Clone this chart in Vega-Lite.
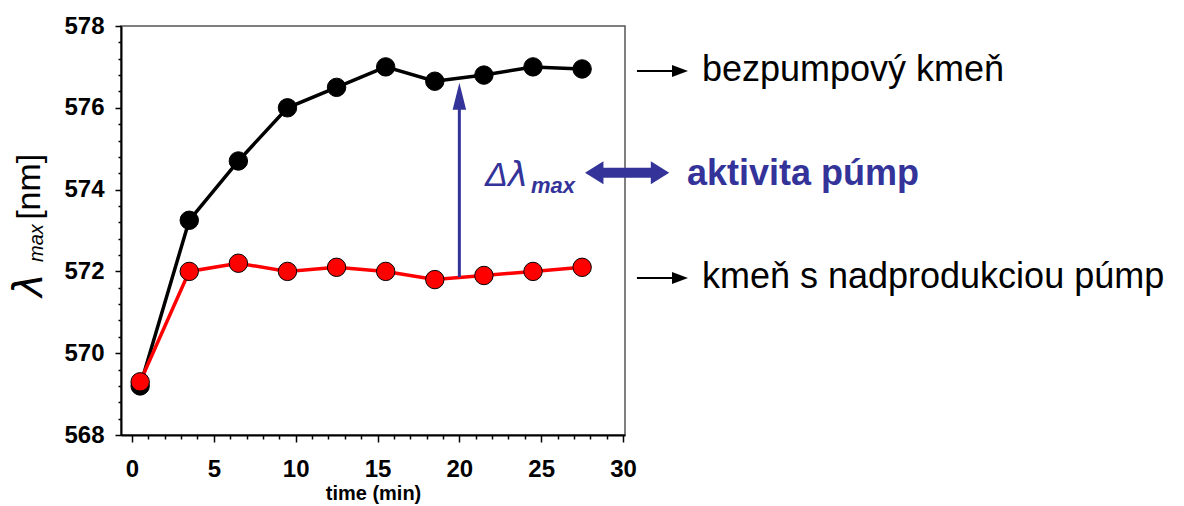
{
  "$schema": "https://vega.github.io/schema/vega-lite/v6.json",
  "width": 504,
  "height": 409,
  "autosize": {"type": "none"},
  "padding": {"left": 121, "top": 26, "right": 559, "bottom": 71},
  "background": "white",
  "config": {
    "view": {"stroke": "#555555", "strokeWidth": 1.5},
    "font": "Liberation Sans"
  },
  "datasets": {
    "series": [
      {"strain": "bezpumpový kmeň", "time": 0.5, "lambda": 569.2},
      {"strain": "bezpumpový kmeň", "time": 3.5, "lambda": 573.25},
      {"strain": "bezpumpový kmeň", "time": 6.5, "lambda": 574.7},
      {"strain": "bezpumpový kmeň", "time": 9.5, "lambda": 576.0},
      {"strain": "bezpumpový kmeň", "time": 12.5, "lambda": 576.5},
      {"strain": "bezpumpový kmeň", "time": 15.5, "lambda": 577.0},
      {"strain": "bezpumpový kmeň", "time": 18.5, "lambda": 576.65},
      {"strain": "bezpumpový kmeň", "time": 21.5, "lambda": 576.8},
      {"strain": "bezpumpový kmeň", "time": 24.5, "lambda": 577.0},
      {"strain": "bezpumpový kmeň", "time": 27.5, "lambda": 576.95},
      {"strain": "kmeň s nadprodukciou púmp", "time": 0.5, "lambda": 569.3},
      {"strain": "kmeň s nadprodukciou púmp", "time": 3.5, "lambda": 572.0},
      {"strain": "kmeň s nadprodukciou púmp", "time": 6.5, "lambda": 572.2},
      {"strain": "kmeň s nadprodukciou púmp", "time": 9.5, "lambda": 572.0},
      {"strain": "kmeň s nadprodukciou púmp", "time": 12.5, "lambda": 572.1},
      {"strain": "kmeň s nadprodukciou púmp", "time": 15.5, "lambda": 572.0},
      {"strain": "kmeň s nadprodukciou púmp", "time": 18.5, "lambda": 571.8},
      {"strain": "kmeň s nadprodukciou púmp", "time": 21.5, "lambda": 571.9},
      {"strain": "kmeň s nadprodukciou púmp", "time": 24.5, "lambda": 572.0},
      {"strain": "kmeň s nadprodukciou púmp", "time": 27.5, "lambda": 572.1}
    ]
  },
  "encoding": {
    "x": {
      "field": "time",
      "type": "quantitative",
      "scale": {"domain": [-0.67, 30.12], "nice": false, "zero": false},
      "axis": {
        "values": [0, 1, 2, 3, 4, 5, 6, 7, 8, 9, 10, 11, 12, 13, 14, 15, 16, 17, 18, 19, 20, 21, 22, 23, 24, 25, 26, 27, 28, 29, 30],
        "labelExpr": "datum.value % 5 === 0 ? format(datum.value, '.0f') : ''",
        "tickSize": {"condition": {"test": "datum.value % 5 === 0", "value": 7}, "value": 4},
        "tickColor": "black",
        "tickWidth": 1.5,
        "domainColor": "black",
        "domainWidth": 2,
        "grid": false,
        "labelOverlap": false,
        "labelFlush": false,
        "labelFont": "Liberation Sans",
        "labelFontWeight": "bold",
        "labelFontSize": 24,
        "labelColor": "black",
        "labelPadding": 15,
        "title": "time (min)",
        "titleFont": "Liberation Sans",
        "titleFontSize": 20,
        "titleFontWeight": "bold",
        "titleColor": "black",
        "titlePadding": 2
      }
    },
    "y": {
      "field": "lambda",
      "type": "quantitative",
      "scale": {"domain": [568, 578], "nice": false, "zero": false},
      "axis": {
        "values": [568, 568.4, 568.8, 569.2, 569.6, 570, 570.4, 570.8, 571.2, 571.6, 572, 572.4, 572.8, 573.2, 573.6, 574, 574.4, 574.8, 575.2, 575.6, 576, 576.4, 576.8, 577.2, 577.6, 578],
        "labelExpr": "abs(datum.value / 2 - round(datum.value / 2)) < 0.01 ? format(datum.value, '.0f') : ''",
        "tickSize": {"condition": {"test": "abs(datum.value / 2 - round(datum.value / 2)) < 0.01", "value": 6}, "value": 3},
        "tickColor": "black",
        "tickWidth": 1.5,
        "domainColor": "black",
        "domainWidth": 2,
        "grid": false,
        "labelOverlap": false,
        "labelFlush": false,
        "labelFont": "Liberation Sans",
        "labelFontWeight": "bold",
        "labelFontSize": 24,
        "labelColor": "black",
        "labelPadding": 11,
        "title": null
      }
    }
  },
  "layer": [
    {
      "data": {"name": "series"},
      "transform": [{"filter": "datum.strain === 'bezpumpový kmeň'"}],
      "mark": {"type": "line", "color": "black", "strokeWidth": 3.5}
    },
    {
      "data": {"name": "series"},
      "transform": [{"filter": "datum.strain === 'bezpumpový kmeň'"}],
      "mark": {"type": "point", "shape": "circle", "filled": true, "fill": "black", "stroke": "black", "strokeWidth": 1, "size": 340, "opacity": 1}
    },
    {
      "data": {"name": "series"},
      "transform": [{"filter": "datum.strain === 'kmeň s nadprodukciou púmp'"}],
      "mark": {"type": "line", "color": "#ff0000", "strokeWidth": 3.5}
    },
    {
      "data": {"name": "series"},
      "transform": [{"filter": "datum.strain === 'kmeň s nadprodukciou púmp'"}],
      "mark": {"type": "point", "shape": "circle", "filled": true, "fill": "#ff0000", "stroke": "black", "strokeWidth": 1, "size": 340, "opacity": 1}
    },
    {
      "data": {"values": [{"time": 20, "lambda": 571.86, "lambda2": 576.28}]},
      "mark": {"type": "rule", "color": "#333399", "strokeWidth": 3},
      "encoding": {"y2": {"field": "lambda2"}}
    },
    {
      "data": {"values": [{"time": 20, "lambda": 576.28}]},
      "mark": {"type": "point", "shape": "M0,-1L0.5,1L-0.5,1Z", "filled": true, "fill": "#333399", "strokeWidth": 0, "size": 729, "opacity": 1}
    },
    {
      "data": {"values": [{"time": 28.24, "time2": 32.26, "lambda": 574.41}]},
      "mark": {"type": "rule", "color": "#333399", "strokeWidth": 10},
      "encoding": {"x2": {"field": "time2"}}
    },
    {
      "data": {"values": [{"time": 32.26, "lambda": 574.41}]},
      "mark": {"type": "point", "shape": "M-0.8,-1L0.8,0L-0.8,1Z", "filled": true, "fill": "#333399", "strokeWidth": 0, "size": 529, "opacity": 1}
    },
    {
      "data": {"values": [{"time": 28.24, "lambda": 574.41}]},
      "mark": {"type": "point", "shape": "M0.8,-1L-0.8,0L0.8,1Z", "filled": true, "fill": "#333399", "strokeWidth": 0, "size": 529, "opacity": 1}
    },
    {
      "data": {"values": [
        {"time": 30.85, "time2": 33.0, "lambda": 576.9},
        {"time": 30.85, "time2": 33.0, "lambda": 571.84}
      ]},
      "mark": {"type": "rule", "color": "black", "strokeWidth": 2},
      "encoding": {"x2": {"field": "time2"}}
    },
    {
      "data": {"values": [
        {"time": 33.48, "lambda": 576.9},
        {"time": 33.48, "lambda": 571.84}
      ]},
      "mark": {"type": "point", "shape": "M-1,-0.75L1,0L-1,0.75Z", "filled": true, "fill": "black", "strokeWidth": 0, "size": 256, "opacity": 1}
    },
    {
      "data": {"values": [
        {"time": 34.82, "lambda": 576.66, "note": "bezpumpový kmeň"},
        {"time": 34.82, "lambda": 571.59, "note": "kmeň s nadprodukciou púmp"}
      ]},
      "mark": {"type": "text", "align": "left", "baseline": "alphabetic", "font": "Liberation Sans", "fontSize": 36, "color": "black"},
      "encoding": {"text": {"field": "note"}}
    },
    {
      "data": {"values": [{"time": 33.91, "lambda": 574.11, "note": "aktivita púmp"}]},
      "mark": {"type": "text", "align": "left", "baseline": "alphabetic", "font": "Liberation Sans", "fontSize": 36, "fontWeight": "bold", "color": "#333399"},
      "encoding": {"text": {"field": "note"}}
    },
    {
      "data": {"values": [{"time": 21.57, "lambda": 574.09, "note": "Δ"}]},
      "mark": {"type": "text", "align": "left", "baseline": "alphabetic", "font": "Liberation Sans", "fontSize": 34, "fontStyle": "italic", "color": "#333399"},
      "encoding": {"text": {"field": "note"}}
    },
    {
      "data": {"values": [{"time": 22.97, "lambda": 574.09, "note": "λ"}]},
      "mark": {"type": "text", "align": "left", "baseline": "alphabetic", "font": "DejaVu Sans", "fontSize": 34, "fontStyle": "italic", "color": "#333399"},
      "encoding": {"text": {"field": "note"}}
    },
    {
      "data": {"values": [{"time": 24.37, "lambda": 573.92, "note": "max"}]},
      "mark": {"type": "text", "align": "left", "baseline": "alphabetic", "font": "Liberation Sans", "fontSize": 22, "fontStyle": "italic", "fontWeight": "bold", "color": "#333399"},
      "encoding": {"text": {"field": "note"}}
    },
    {
      "data": {"values": [{"time": -5.5, "lambda": 571.374, "note": "λ"}]},
      "mark": {"type": "text", "angle": 270, "align": "left", "baseline": "alphabetic", "font": "DejaVu Sans", "fontSize": 40, "fontStyle": "italic", "color": "black"},
      "encoding": {"text": {"field": "note"}}
    },
    {
      "data": {"values": [{"time": -5.43, "lambda": 572.23, "note": "max"}]},
      "mark": {"type": "text", "angle": 270, "align": "left", "baseline": "alphabetic", "font": "Liberation Sans", "fontSize": 20, "fontStyle": "italic", "color": "black"},
      "encoding": {"text": {"field": "note"}}
    },
    {
      "data": {"values": [{"time": -5.62, "lambda": 573.26, "note": "[nm]"}]},
      "mark": {"type": "text", "angle": 270, "align": "left", "baseline": "alphabetic", "font": "Liberation Sans", "fontSize": 34, "color": "black"},
      "encoding": {"text": {"field": "note"}}
    }
  ]
}
